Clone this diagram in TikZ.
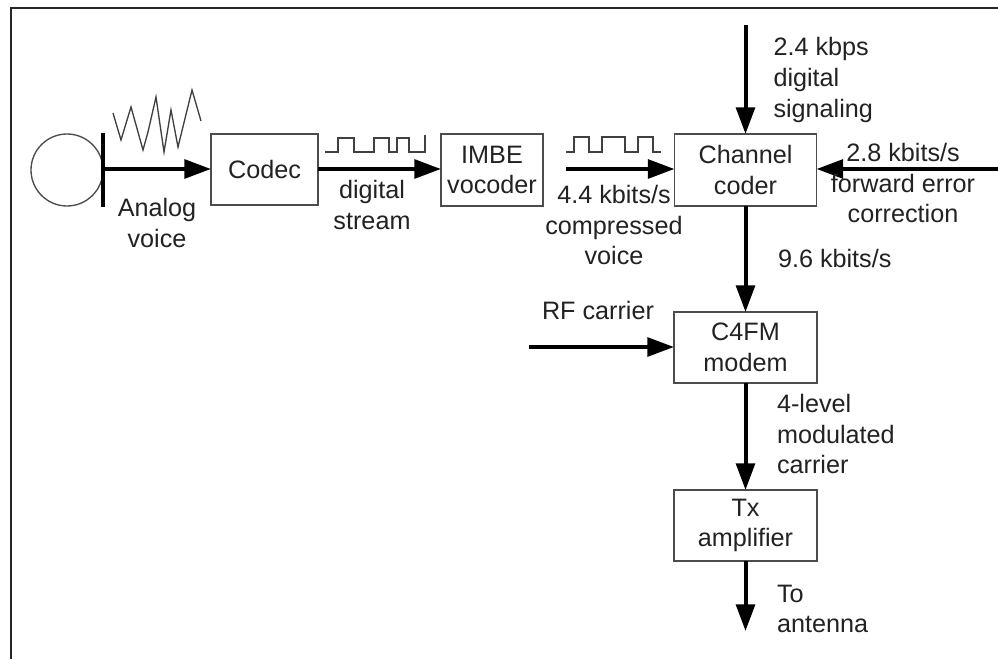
\documentclass[tikz,border=0pt]{standalone}
\usepackage{fontspec}
\setmainfont{Liberation Sans}
\usetikzlibrary{arrows.meta}
\definecolor{ink}{HTML}{222222}
\tikzset{
  blockbox/.style={draw=black!70,line width=1.1pt,align=center,inner sep=0pt,outer sep=0pt,text=ink,
    font=\fontsize{18.9pt}{22.9pt}\selectfont},
  lab/.style={align=center,inner sep=0pt,outer sep=0pt,text=ink,font=\fontsize{18.9pt}{22.9pt}\selectfont},
  labl/.style={lab,align=left,anchor=west},
  flow/.style={line width=3pt,-{Triangle[length=20pt,width=14pt]},shorten >=0pt},
  wave/.style={line width=1pt,draw=black!75}
}
\begin{document}
\begin{tikzpicture}[x=0.75pt,y=-0.75pt]
\useasboundingbox (0,0) rectangle (998,659);
\fill[white] (0,0) rectangle (998,659);
% frame
\draw[line width=1.3pt,black!85] (11,659) -- (11,8) -- (998,8);
% source
\node[draw=black!70,line width=1pt,circle,minimum size=72*0.75pt,inner sep=0pt,outer sep=0pt] (mic) at (67,170) {};
\coordinate (bartop) at (103,133);
\coordinate (barbot) at (103,207);
\coordinate (barmid) at (103,169);
\draw[line width=3pt,black] (bartop) -- (barbot);
% noise wave
\draw[wave,line join=miter] (113,113) -- (121,140) -- (131,107) -- (143,150) -- (148,132) -- (156,97) -- (164,152) -- (171,110) -- (178,147) -- (192,90) -- (201,121);
% blocks
\node[blockbox,minimum width=107*0.75pt,minimum height=71*0.75pt] (codec) at (264.5,169.5) {Codec};
\node[blockbox,minimum width=102*0.75pt,minimum height=72*0.75pt] (imbe) at (492,170) {IMBE\\vocoder};
\node[blockbox,minimum width=142*0.75pt,minimum height=72*0.75pt] (chan) at (745.5,170) {Channel\\coder};
\node[blockbox,minimum width=143*0.75pt,minimum height=71*0.75pt] (c4fm) at (745.5,347.5) {C4FM\\modem};
\node[blockbox,minimum width=143*0.75pt,minimum height=71*0.75pt] (tx) at (745.5,525.5) {Tx\\amplifier};
% free ends
\coordinate (imbeout) at (566,169);
\coordinate (sigin) at (745.5,25);
\coordinate (fecin) at (998,169);
\coordinate (rfin) at (529,347);
\coordinate (ant) at (745.5,631);
% connectors
\draw[flow] (barmid) -- (codec.west |- barmid);
\draw[flow] (codec.east |- barmid) -- (imbe.west |- barmid);
\draw[flow] (imbeout) -- (chan.west |- imbeout);
\draw[flow] (sigin) -- (chan.north);
\draw[flow] (fecin) -- (chan.east |- fecin);
\draw[flow] (chan.south) -- (c4fm.north);
\draw[flow] (rfin) -- (c4fm.west |- rfin);
\draw[flow] (c4fm.south) -- (tx.north);
\draw[flow] (tx.south) -- (ant);
% square waves
\draw[wave] (325,152) -- (338,152) -- (338,138) -- (354,138) -- (354,152) -- (374,152) -- (374,138) -- (389,138) -- (389,152) -- (397,152) -- (397,138) -- (409,138) -- (409,152) -- (425,152) -- (425,135);
\draw[wave] (566,152) -- (574,152) -- (574,137) -- (589,137) -- (589,152) -- (602,152) -- (602,137) -- (625,137) -- (625,152) -- (638,152) -- (638,137) -- (653,137) -- (653,152) -- (661,152);
% labels
\node[lab] (lanalog) at (157,223) {Analog\\voice};
\node[lab] (ldigital) at (372,205) {digital\\stream};
\node[lab] (lcomp) at (614,225) {4.4 kbits/s\\compressed\\voice};
\node[labl] (lsig) at (773.5,80) {2.4 kbps\\digital\\signaling};
\node[lab] (lfec) at (903,183) {2.8 kbits/s\\forward error\\correction};
\node[labl] (l96) at (778,258) {9.6 kbits/s};
\node[lab] (lrf) at (598,310) {RF carrier};
\node[labl] (lmod) at (777,434) {4-level\\modulated\\carrier};
\node[labl] (lant) at (777,609) {To\\antenna};
\end{tikzpicture}
\end{document}
